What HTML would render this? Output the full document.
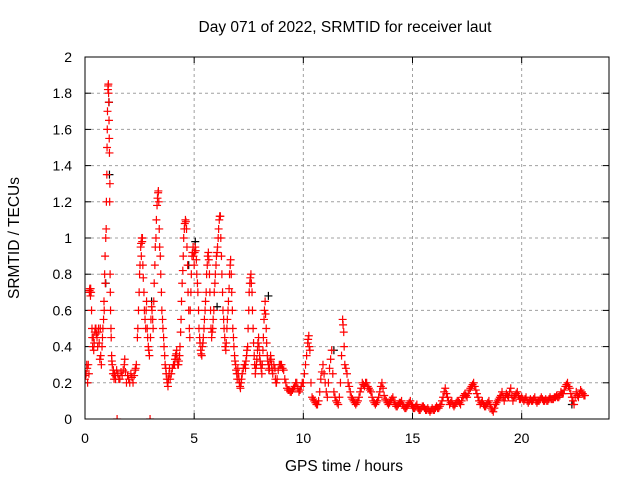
<!DOCTYPE html>
<html><head><meta charset="utf-8"><style>
html,body{margin:0;padding:0;background:#fff}
svg{display:block;font-family:"Liberation Sans",sans-serif}
</style></head><body>
<svg id="chart" width="640" height="480" viewBox="0 0 640 480" xmlns="http://www.w3.org/2000/svg">
<rect width="640" height="480" fill="#fff"/>
<text x="345" y="32" font-size="15.5" text-anchor="middle">Day 071 of 2022, SRMTID for receiver laut</text>
<g id="grid"></g>
<g id="yticks"></g>
<g id="xticks"></g>
<defs><clipPath id="clip"><rect x="85" y="57" width="524" height="362"/></clipPath></defs>
<g id="marks" clip-path="url(#clip)"></g>
<rect x="85" y="57" width="524" height="362" fill="none" stroke="#000" stroke-width="1"/>
<text x="344" y="471" font-size="15.5" text-anchor="middle">GPS time / hours</text>
<text x="0" y="0" font-size="15.5" text-anchor="middle" transform="translate(19,238) rotate(-90)">SRMTID / TECUs</text>
</svg>
<script>
const xTicks=[0,5,10,15,20];
const yTicks=[0,0.2,0.4,0.6,0.8,1,1.2,1.4,1.6,1.8,2];
const yTickLabels=["0","0.2","0.4","0.6","0.8","1","1.2","1.4","1.6","1.8","2"];
const redTimes=[0,0.05,0.1,0.12,0.15,0.2,0.22,0.25,0.28,0.3,0.32,0.35,0.38,0.4,0.45,0.5,0.55,0.6,0.65,0.7,0.72,0.75,0.8,0.85,0.88,0.9,0.92,0.95,0.98,1.0,1.02,1.05,1.07,1.08,1.1,1.12,1.14,1.15,1.17,1.2,1.22,1.25,1.3,1.35,1.4,1.47,1.5,1.6,1.7,1.8,1.85,1.9,2.0,2.1,2.2,2.3,2.35,2.4,2.45,2.5,2.55,2.6,2.62,2.65,2.7,2.75,2.8,2.85,2.9,2.95,2.98,3.0,3.05,3.1,3.15,3.2,3.25,3.3,3.35,3.38,3.4,3.45,3.5,3.55,3.6,3.65,3.7,3.75,3.8,3.85,3.9,4.0,4.1,4.15,4.2,4.25,4.3,4.35,4.4,4.45,4.5,4.55,4.6,4.65,4.7,4.75,4.8,4.85,4.9,4.95,5.0,5.05,5.1,5.15,5.2,5.25,5.3,5.35,5.4,5.45,5.5,5.55,5.6,5.65,5.7,5.75,5.8,5.85,5.9,5.95,6.0,6.05,6.1,6.15,6.2,6.25,6.3,6.35,6.4,6.45,6.5,6.55,6.6,6.65,6.7,6.75,6.8,6.85,6.9,6.95,7.0,7.05,7.1,7.15,7.2,7.3,7.35,7.4,7.45,7.5,7.55,7.6,7.65,7.7,7.75,7.8,7.85,7.9,7.95,8.0,8.05,8.1,8.15,8.2,8.25,8.3,8.35,8.4,8.45,8.5,8.55,8.6,8.7,8.75,8.8,8.9,9.0,9.1,9.2,9.3,9.4,9.5,9.6,9.7,9.8,9.9,10.0,10.1,10.2,10.25,10.3,10.4,10.5,10.6,10.7,10.8,10.9,11.0,11.1,11.2,11.3,11.4,11.5,11.6,11.7,11.8,11.85,11.9,12.0,12.1,12.2,12.3,12.4,12.5,12.6,12.7,12.8,12.9,13.0,13.1,13.2,13.3,13.4,13.5,13.6,13.7,13.8,13.9,14.0,14.1,14.2,14.3,14.4,14.5,14.6,14.7,14.8,14.9,15.0,15.1,15.2,15.3,15.4,15.5,15.6,15.7,15.8,15.9,16.0,16.1,16.2,16.3,16.4,16.5,16.6,16.7,16.8,16.9,17.0,17.1,17.2,17.3,17.4,17.5,17.6,17.7,17.8,17.9,18.0,18.1,18.2,18.3,18.4,18.5,18.6,18.7,18.8,18.9,19.0,19.1,19.2,19.3,19.4,19.5,19.6,19.7,19.8,19.9,20.0,20.1,20.2,20.3,20.4,20.5,20.6,20.7,20.8,20.9,21.0,21.1,21.2,21.3,21.4,21.5,21.6,21.7,21.8,21.9,22.0,22.1,22.2,22.3,22.4,22.5,22.6,22.7,22.8,22.9];
const redValues=[0.22,0.25,0.28,0.2,0.3,0.7,0.72,0.68,0.7,0.6,0.5,0.4,0.45,0.38,0.48,0.5,0.45,0.48,0.42,0.5,0.35,0.3,0.45,0.55,0.6,0.8,0.9,1.0,1.2,1.35,1.6,1.82,1.85,1.8,1.65,1.47,1.3,0.8,0.6,0.45,0.35,0.3,0.27,0.25,0.22,0,0.25,0.22,0.24,0.3,0.26,0.2,0.22,0.25,0.2,0.27,0.3,0.45,0.6,0.8,0.95,1.0,0.98,0.85,0.7,0.55,0.6,0.5,0.4,0.35,0,0.45,0.62,0.55,0.65,0.85,1.0,1.18,1.25,1.2,1.05,0.9,0.7,0.55,0.45,0.35,0.28,0.22,0.18,0.25,0.22,0.28,0.3,0.35,0.38,0.3,0.32,0.4,0.55,0.75,0.9,1.05,1.1,1.05,0.85,0.6,0.45,0.7,0.9,0.95,0.85,0.95,0.88,0.75,0.6,0.45,0.38,0.35,0.42,0.5,0.6,0.7,0.85,0.92,0.8,0.6,0.45,0.5,0.6,0.75,0.85,0.92,1.0,1.1,1.12,0.9,0.7,0.55,0.45,0.38,0.5,0.6,0.72,0.85,0.8,0.6,0.45,0.35,0.3,0.25,0.28,0.22,0.18,0.2,0.25,0.3,0.28,0.35,0.4,0.6,0.75,0.8,0.7,0.5,0.35,0.25,0.3,0.38,0.45,0.35,0.3,0.25,0.38,0.55,0.65,0.5,0.35,0.3,0.28,0.35,0.3,0.25,0.28,0.2,0.22,0.3,0.3,0.27,0.2,0.16,0.15,0.16,0.18,0.2,0.15,0.18,0.2,0.3,0.42,0.46,0.38,0.12,0.1,0.08,0.1,0.22,0.3,0.2,0.12,0.28,0.38,0.15,0.1,0.08,0.2,0.55,0.48,0.3,0.25,0.18,0.12,0.1,0.08,0.1,0.15,0.2,0.18,0.2,0.17,0.15,0.1,0.08,0.1,0.15,0.2,0.13,0.1,0.08,0.1,0.12,0.08,0.07,0.09,0.1,0.07,0.06,0.08,0.1,0.07,0.06,0.08,0.05,0.06,0.07,0.05,0.06,0.04,0.06,0.05,0.07,0.06,0.08,0.12,0.17,0.12,0.08,0.1,0.07,0.09,0.1,0.08,0.12,0.14,0.12,0.16,0.18,0.2,0.16,0.12,0.08,0.1,0.07,0.08,0.1,0.06,0.04,0.08,0.1,0.12,0.15,0.1,0.14,0.12,0.17,0.1,0.13,0.15,0.11,0.12,0.1,0.12,0.09,0.11,0.1,0.12,0.09,0.1,0.12,0.1,0.11,0.1,0.12,0.11,0.12,0.13,0.12,0.15,0.14,0.18,0.2,0.17,0.12,0.08,0.15,0.12,0.16,0.14,0.13];
const redTimes2=[0.02,0.08,0.18,0.21,0.24,0.26,0.33,0.42,0.47,0.52,0.58,0.62,0.68,0.78,0.82,0.87,0.93,0.97,1.01,1.03,1.06,1.09,1.11,1.13,1.16,1.19,1.23,1.28,1.33,1.38,1.45,1.55,1.65,1.75,1.82,1.95,2.05,2.15,2.25,2.32,2.42,2.48,2.52,2.57,2.58,2.63,2.67,2.72,2.78,2.82,2.87,2.92,3.02,3.07,3.12,3.17,3.22,3.27,3.32,3.36,3.42,3.47,3.52,3.57,3.62,3.67,3.72,3.77,3.82,3.87,3.95,4.05,4.12,4.18,4.22,4.28,4.33,4.38,4.42,4.48,4.52,4.57,4.62,4.67,4.72,4.78,4.82,4.87,4.92,4.97,5.02,5.07,5.12,5.17,5.22,5.27,5.32,5.37,5.42,5.47,5.52,5.57,5.62,5.67,5.72,5.77,5.82,5.87,5.92,5.97,6.02,6.07,6.12,6.17,6.22,6.27,6.32,6.37,6.42,6.47,6.52,6.57,6.62,6.67,6.72,6.77,6.82,6.87,6.92,6.97,7.02,7.07,7.12,7.17,7.25,7.32,7.37,7.42,7.47,7.52,7.57,7.62,7.67,7.72,7.77,7.82,7.87,7.92,7.97,8.02,8.07,8.12,8.17,8.22,8.27,8.32,8.37,8.42,8.47,8.52,8.57,8.65,8.72,8.77,8.85,8.95,9.05,9.15,9.25,9.35,9.45,9.55,9.65,9.75,9.85,9.95,10.05,10.15,10.22,10.27,10.35,10.45,10.55,10.65,10.75,10.85,10.95,11.05,11.15,11.25,11.35,11.45,11.55,11.65,11.75,11.82,11.87,11.95,12.05,12.15,12.25,12.35,12.45,12.55,12.65,12.75,12.85,12.95,13.05,13.15,13.25,13.35,13.45,13.55,13.65,13.75,13.85,13.95,14.05,14.15,14.25,14.35,14.45,14.55,14.65,14.75,14.85,14.95,15.05,15.15,15.25,15.35,15.45,15.55,15.65,15.75,15.85,15.95,16.05,16.15,16.25,16.35,16.45,16.55,16.65,16.75,16.85,16.95,17.05,17.15,17.25,17.35,17.45,17.55,17.65,17.75,17.85,17.95,18.05,18.15,18.25,18.35,18.45,18.55,18.65,18.75,18.85,18.95,19.05,19.15,19.25,19.35,19.45,19.55,19.65,19.75,19.85,19.95,20.05,20.15,20.25,20.35,20.45,20.55,20.65,20.75,20.85,20.95,21.05,21.15,21.25,21.35,21.45,21.55,21.65,21.75,21.85,21.95,22.05,22.15,22.25,22.35,22.45,22.55,22.65,22.75,22.85];
const redValues2=[0.24,0.3,0.25,0.71,0.7,0.72,0.45,0.42,0.5,0.47,0.4,0.5,0.33,0.4,0.5,0.65,0.75,1.05,1.5,1.7,1.84,1.75,1.55,1.2,0.7,0.5,0.32,0.25,0.22,0.24,0.27,0.22,0.26,0.27,0.33,0.24,0.2,0.23,0.24,0.28,0.5,0.7,0.85,0.97,0.9,1.0,0.78,0.6,0.5,0.65,0.45,0.38,0.55,0.6,0.5,0.75,0.95,1.1,1.22,1.26,0.95,0.8,0.6,0.5,0.4,0.3,0.25,0.2,0.22,0.28,0.25,0.3,0.33,0.36,0.33,0.3,0.35,0.48,0.65,0.82,1.0,1.08,1.09,0.95,0.7,0.5,0.6,0.8,0.92,0.9,0.92,0.93,0.8,0.7,0.5,0.42,0.36,0.4,0.45,0.55,0.65,0.8,0.9,0.88,0.7,0.5,0.48,0.55,0.7,0.8,0.9,0.95,1.05,1.12,1.0,0.8,0.6,0.5,0.4,0.42,0.55,0.65,0.8,0.88,0.7,0.5,0.4,0.32,0.27,0.22,0.25,0.2,0.17,0.22,0.28,0.3,0.32,0.38,0.5,0.7,0.78,0.75,0.6,0.42,0.3,0.28,0.33,0.42,0.4,0.32,0.28,0.3,0.45,0.6,0.58,0.42,0.32,0.27,0.32,0.33,0.27,0.3,0.22,0.2,0.27,0.3,0.28,0.22,0.17,0.16,0.15,0.17,0.2,0.17,0.16,0.2,0.25,0.35,0.44,0.4,0.2,0.11,0.09,0.08,0.15,0.26,0.25,0.15,0.2,0.33,0.25,0.12,0.09,0.12,0.35,0.52,0.4,0.28,0.2,0.15,0.11,0.09,0.09,0.12,0.17,0.19,0.2,0.18,0.16,0.12,0.09,0.09,0.12,0.18,0.17,0.11,0.09,0.09,0.11,0.1,0.07,0.08,0.09,0.08,0.06,0.07,0.09,0.08,0.06,0.07,0.06,0.05,0.07,0.06,0.05,0.05,0.05,0.05,0.06,0.06,0.07,0.1,0.15,0.14,0.1,0.09,0.08,0.08,0.1,0.09,0.1,0.13,0.13,0.14,0.17,0.19,0.18,0.14,0.1,0.09,0.08,0.07,0.09,0.08,0.05,0.06,0.09,0.11,0.13,0.12,0.12,0.13,0.15,0.13,0.12,0.14,0.13,0.11,0.11,0.11,0.1,0.1,0.1,0.11,0.1,0.1,0.11,0.11,0.1,0.1,0.11,0.11,0.11,0.12,0.12,0.13,0.14,0.16,0.19,0.18,0.14,0.1,0.12,0.13,0.14,0.15,0.13];
const blackTimes=[0.95,1.1,1.12,3.05,4.75,5.05,6.05,8.4,11.4,22.3];
const blackValues=[0.75,1.75,1.35,0.65,0.85,0.98,0.62,0.68,0.38,0.08];

const X0=85,X1=609,Y0=419,Y1=57,XMAX=24,YMAX=2;
function xs(t){return X0+(X1-X0)*t/XMAX;}
function ys(v){return Y0-(Y0-Y1)*v/YMAX;}
const NS="http://www.w3.org/2000/svg";
const grid=document.getElementById('grid'),yg=document.getElementById('yticks'),xg=document.getElementById('xticks'),marks=document.getElementById('marks');
function mk(tag,attrs,parent){const e=document.createElementNS(NS,tag);for(const k in attrs)e.setAttribute(k,attrs[k]);parent.appendChild(e);return e;}
yTicks.forEach((v,i)=>{
  const y=ys(v);
  if(v>0&&v<YMAX){const g=mk('line',{x1:X0,x2:X1,y1:y,y2:y,stroke:'#a0a0a0','stroke-dasharray':'3,3','stroke-width':1},grid);
  
  }
  mk('line',{x1:X0,x2:X0+6,y1:y,y2:y,stroke:'#000'},yg);
  mk('line',{x1:X1,x2:X1-6,y1:y,y2:y,stroke:'#000'},yg);
  const t=mk('text',{x:72,y:y+5,'font-size':14,'text-anchor':'end'},yg);t.textContent=yTickLabels[i];
  
  
});
xTicks.forEach(v=>{
  const x=xs(v);
  if(v>0){const g=mk('line',{x1:x,x2:x,y1:Y0,y2:Y1,stroke:'#a0a0a0','stroke-dasharray':'3,3','stroke-width':1},grid);
  
  }
  mk('line',{x1:x,x2:x,y1:Y0,y2:Y0-6,stroke:'#000'},xg);
  mk('line',{x1:x,x2:x,y1:Y1,y2:Y1+6,stroke:'#000'},xg);
  const t=mk('text',{x:x,y:443,'font-size':14,'text-anchor':'middle'},xg);t.textContent=String(v);
  
  
});
function plus(t,v,color,name){
  const x=xs(t),y=ys(v);
  const p=mk('path',{d:`M${x-4},${y}H${x+4}M${x},${y-4}V${y+4}`,stroke:color,'stroke-width':1.2,fill:'none'},marks);
  
  
}
blackTimes.forEach((t,i)=>plus(t,blackValues[i],'#000','black-point'));
redTimes.forEach((t,i)=>plus(t,redValues[i],'#ff0000','red-point'));
redTimes2.forEach((t,i)=>plus(t,redValues2[i],'#ff0000','red-point'));
</script>
</body></html>
